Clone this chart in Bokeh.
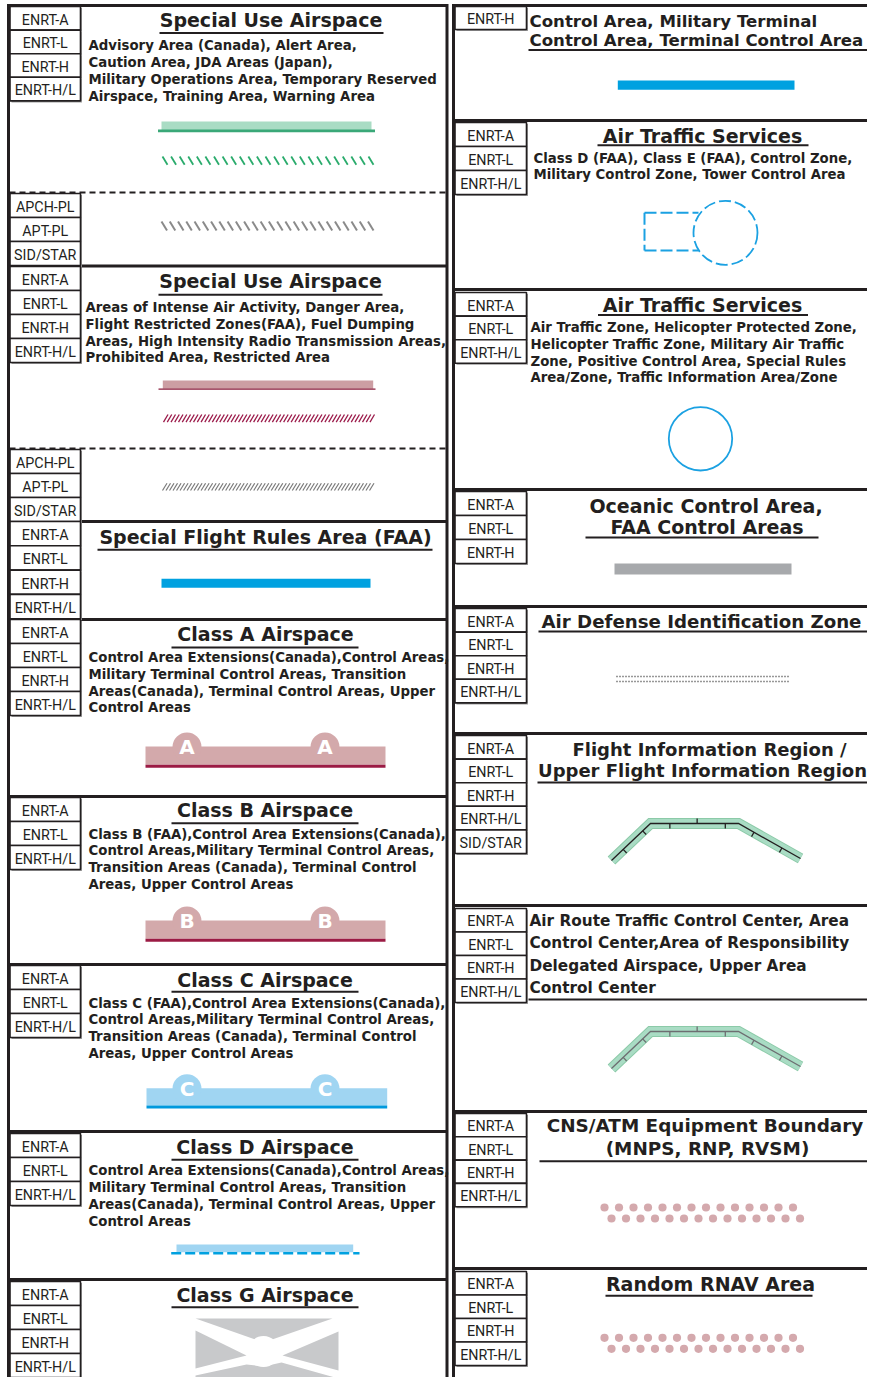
import math
from bokeh.plotting import figure
from bokeh.models import Range1d
from bokeh.embed import file_html
from bokeh.resources import INLINE
from bokeh.core.properties import value

INK = "#231f20"
TFONT = value("DejaVu Sans")
CFONT = value("Roboto")

# ---------------- content ----------------
codes_4 = ["ENRT-A", "ENRT-L", "ENRT-H", "ENRT-H/L"]
codes_3 = ["ENRT-A", "ENRT-L", "ENRT-H/L"]
codes_3h = ["ENRT-A", "ENRT-L", "ENRT-H"]
codes_pl = ["APCH-PL", "APT-PL", "SID/STAR"]
codes_5 = ["ENRT-A", "ENRT-L", "ENRT-H", "ENRT-H/L", "SID/STAR"]
codes_1 = ["ENRT-H"]

left_titles = ["Special Use Airspace", "Special Use Airspace", "Special Flight Rules Area (FAA)",
               "Class A Airspace", "Class B Airspace", "Class C Airspace", "Class D Airspace",
               "Class G Airspace"]
right_center_titles = [["Air Traffic Services"], ["Air Traffic Services"],
                       ["Oceanic Control Area,", "FAA Control Areas"],
                       ["Flight Information Region /", "Upper Flight Information Region"],
                       ["CNS/ATM Equipment Boundary", "(MNPS, RNP, RVSM)"],
                       ["Random RNAV Area"]]
right_left_titles = [["Control Area, Military Terminal", "Control Area, Terminal Control Area"],
                     ["Air Defense Identification Zone"],
                     ["Air Route Traffic Control Center, Area", "Control Center,Area of Responsibility",
                      "Delegated Airspace, Upper Area", "Control Center"]]

desc_sua1 = ["Advisory Area (Canada), Alert Area,", "Caution  Area, JDA Areas (Japan),",
             "Military Operations Area, Temporary Reserved", "Airspace, Training Area, Warning Area"]
desc_sua2 = ["Areas of Intense Air Activity, Danger Area,", "Flight Restricted Zones(FAA), Fuel Dumping",
             "Areas, High Intensity Radio Transmission Areas,", "Prohibited Area, Restricted Area"]
desc_cls_a = ["Control Area Extensions(Canada),Control Areas,", "Military Terminal Control Areas, Transition",
              "Areas(Canada), Terminal Control Areas, Upper", "Control Areas"]
desc_cls_b = ["Class B (FAA),Control Area Extensions(Canada),", "Control Areas,Military Terminal Control Areas,",
              "Transition Areas (Canada), Terminal Control", "Areas, Upper Control Areas"]
desc_cls_c = ["Class C (FAA),Control Area Extensions(Canada),", "Control Areas,Military Terminal Control Areas,",
              "Transition Areas (Canada), Terminal Control", "Areas, Upper Control Areas"]
desc_cls_d = desc_cls_a
desc_ats1 = ["Class D (FAA), Class E (FAA), Control Zone,", "Military Control Zone, Tower Control Area"]
desc_ats2 = ["Air Traffic Zone, Helicopter Protected Zone,", "Helicopter Traffic Zone, Military Air Traffic",
             "Zone, Positive Control Area, Special Rules", "Area/Zone, Traffic Information Area/Zone"]

bump_letters = ["A", "B", "C"]
dot_count_per_row = 14

# ---------------- figure ----------------
p = figure(width=867, height=1377, x_range=Range1d(0, 867), y_range=Range1d(1377, 0),
           output_backend="svg", toolbar_location=None, min_border=0,
           x_axis_location=None, y_axis_location=None)
p.grid.visible = False
p.outline_line_color = None
p.background_fill_color = "white"


def seg(xs0, ys0, xs1, ys1, color=INK, width=3, dash="solid"):
    p.segment(x0=xs0, y0=ys0, x1=xs1, y1=ys1, line_color=color, line_width=width, line_dash=dash)


def put_text(xs, baselines, texts, fs, align="left", font=TFONT, bold=True, color=INK):
    # the renderer centres the glyphs on y, so shift from baseline to cap centre
    ys = [b - 0.36 * fs for b in baselines]
    p.text(x=xs, y=ys, text=texts, text_font=font, text_font_style="bold" if bold else "normal",
           text_font_size=f"{fs}px", text_color=color, text_align=align, text_baseline="alphabetic")


# ---------------- frame ----------------
left_seps = [5, 265.5, 521, 619, 796, 964, 1131, 1279]
right_seps = [5, 120, 289, 489, 606, 733, 905, 1111, 1268]
seg([8] * len(left_seps), left_seps, [446.5] * len(left_seps), left_seps)
seg([453] * len(right_seps), right_seps, [890] * len(right_seps), right_seps)
seg([8, 446.5, 453], [3.5, 3.5, 3.5], [8, 446.5, 453], [1400, 1400, 1400])
seg([9, 9], [192, 448], [446, 446], [192, 448], width=2, dash="6 4")

# ---------------- code boxes ----------------
left_groups = [(codes_4, 6, 23.6), (codes_pl, 193, 24), (codes_4, 266, 24), (codes_pl, 449, 24),
               (codes_4, 521, 24.3), (codes_4, 619, 24), (codes_3, 797, 24), (codes_3, 965, 24),
               (codes_3, 1133, 24), (codes_4, 1281, 24)]
right_groups = [(codes_1, 6, 23), (codes_3, 122, 24), (codes_3, 292, 23.6), (codes_3h, 491, 24),
                (codes_4, 608, 23.6), (codes_5, 735, 23.6), (codes_4, 908, 23.5), (codes_4, 1113, 23.3),
                (codes_4, 1271, 23.5)]


def code_boxes(groups, x0, x1):
    L, R, T, B, tx, ty, tt = [], [], [], [], [], [], []
    for labels, y0, h in groups:
        for i, lab in enumerate(labels):
            t = y0 + i * h
            L.append(x0); R.append(x1); T.append(t); B.append(t + h)
            tx.append((x0 + x1) / 2); ty.append(t + 0.77 * h); tt.append(lab)
    p.quad(left=[l + 1.5 for l in L], right=[r + 1.5 for r in R], top=[t + 1.5 for t in T],
           bottom=[b + 1.5 for b in B], fill_color="#9d9d9d", line_color=None)
    p.quad(left=L, right=R, top=T, bottom=B, fill_color="white", line_color=INK, line_width=1.6)
    put_text(tx, ty, tt, 14.3, align="center", font=CFONT, bold=False)


code_boxes(left_groups, 9.5, 80)
code_boxes(right_groups, 454.5, 526)

# ---------------- titles ----------------
lt_x = [270.5, 270, 265, 265, 264.5, 264.5, 264.5, 264.5]
lt_y = [26.7, 287.7, 543.3, 640.7, 816.7, 986, 1153.7, 1301]
put_text(lt_x, lt_y, left_titles, 19, align="center")
ul_left = [(159, 383, 32.5), (158, 382, 294.3), (97, 432, 549.3), (171, 358, 647), (171, 358, 822.7),
           (171, 358, 991.3), (171, 358, 1159.3), (171, 358, 1306.7)]
ul_right = [(528, 890, 49.5), (597, 808, 144.7), (597.5, 807.5, 314.5), (585, 818, 536.9),
            (538, 890, 631), (537, 890, 782), (528, 890, 999), (539, 875, 1160.7), (605, 812, 1295.3)]
for x0, x1, y in ul_left + ul_right:
    seg([x0], [y], [x1], [y], width=2)

rc_x = [[702], [702], [705.5, 706.5], [709, 702], [704.5, 707], [710]]
rc_y = [[142.3], [311.7], [512.7, 533.3], [755, 776.7], [1131.7, 1154.5], [1290]]
rc_fs = [19, 19, 19, 18, 18.4, 19]
for lines, xs, ys, fs in zip(right_center_titles, rc_x, rc_y, rc_fs):
    put_text(xs, ys, lines, fs, align="center")

rl_x = [529, 541, 529]
rl_y = [[26.7, 45.7], [627.7], [925.7, 948.3, 971, 993.3]]
rl_fs = [16.6, 18.2, 15.3]
for lines, x, ys, fs in zip(right_left_titles, rl_x, rl_y, rl_fs):
    put_text([x] * len(lines), ys, lines, fs)

# ---------------- descriptions ----------------
descs = [(desc_sua1, 88, 50), (desc_sua2, 85, 311.7), (desc_cls_a, 88, 661.7), (desc_cls_b, 88, 838.3),
         (desc_cls_c, 88, 1007.3), (desc_cls_d, 88, 1175), (desc_ats1, 533, 162.3), (desc_ats2, 530, 331.7)]
for lines, x, y0 in descs:
    put_text([x] * len(lines), [y0 + i * 16.8 for i in range(len(lines))], lines, 13.3)


# ---------------- symbols ----------------
def hatch(x0, x1, yt, yb, n, dx, lean, color, width):
    xs, ys = [], []
    for i in range(n):
        x = x0 + i * (x1 - dx - x0) / (n - 1)
        xs.append([x, x + dx])
        ys.append([yt, yb] if lean > 0 else [yb, yt])
    p.multi_line(xs, ys, line_color=color, line_width=width)


# Special use airspace 1
p.quad(left=[161], right=[371], top=[121], bottom=[129.5], fill_color="#a9dcc4", line_color=None)
seg([157.5], [130.4], [374.5], [130.4], color="#3aa878", width=2.6)
hatch(162, 373, 156, 164.3, 25, 5, 1, "#2aab6c", 1.8)
hatch(161, 373, 221, 230, 26, 5.5, 1, "#8a8a8a", 2)
# Special use airspace 2
p.quad(left=[162.3], right=[372.7], top=[380], bottom=[388.3], fill_color="#cc9ea3", line_color=None)
seg([158], [388.7], [375], [388.7], color="#8a1c3d", width=1.3)
hatch(163, 374, 414, 421.7, 56, 4.5, -1, "#9b1b4a", 1.3)
hatch(162, 373.5, 482.7, 490, 60, 4.5, -1, "#7a7a7a", 1.2)
# SFRA
p.quad(left=[161], right=[370], top=[578.3], bottom=[587.3], fill_color="#00a1e0", line_color=None)

# Class A / B / C bands with bumps
bands = [(145, 385, 746, 764.3, 767.3, "#d3a9ab", "#9b1b44"),
         (145, 385, 920, 938.3, 941.3, "#d3a9ab", "#9b1b44"),
         (146, 386.7, 1087.7, 1105, 1108, "#a0d5f2", "#0099dd")]
bump_x = [186.5, 324.5]
for (x0, x1, yt, yb, yl, fill, dark), letter in zip(bands, bump_letters):
    p.quad(left=[x0], right=[x1], top=[yt], bottom=[yb], fill_color=fill, line_color=None)
    p.circle(x=bump_x, y=[yt + 0.5] * 2, radius=14.5, fill_color=fill, line_color=None)
    p.quad(left=[x0], right=[x1], top=[yb], bottom=[yl], fill_color=dark, line_color=None)
    put_text(bump_x, [yt + 7.5] * 2, [letter] * 2, 20, align="center", color="white")

# Class D
p.quad(left=[176], right=[352.7], top=[1244], bottom=[1251.7], fill_color="#a0d5f2", line_color=None)
seg([170.7], [1252.8], [359], [1252.8], color="#00a1e0", width=2.6, dash="10 4")

# Class G
g_polys_x = [[195, 332, 263], [195, 246, 195], [338, 282, 338],
             [195, 246, 263, 281, 338, 338, 195]]
g_polys_y = [[1318, 1318, 1342], [1330, 1355, 1368], [1331, 1355, 1370],
             [1375, 1364, 1366, 1362, 1378, 1383.5, 1383.5]]
p.patches(g_polys_x, g_polys_y, fill_color="#c8c9cb", line_color=None)
p.circle(x=[263], y=[1351], radius=15.5, fill_color="white", line_color=None)

# Right: control area bar
p.quad(left=[617.3], right=[794], top=[80], bottom=[89.3], fill_color="#00a1e0", line_color=None)
# ATS dashed rect + circle
seg([644, 644, 644], [212.3, 250, 212.3], [698, 698, 644], [212.3, 250, 250], color="#1ba1e2",
    width=2, dash="12 4")
p.circle(x=[725], y=[232.3], radius=32, fill_color=None, line_color="#1ba1e2", line_width=1.8,
         line_dash="12 4")
# ATS solid circle
p.circle(x=[700], y=[438.3], radius=31.7, fill_color=None, line_color="#1ba1e2", line_width=1.8)
# Oceanic gray bar
p.quad(left=[614], right=[791], top=[563], bottom=[574], fill_color="#a7a9ac", line_color=None)
# ADIZ dotted rows
seg([616, 616], [676, 681], [788, 788], [676, 681], color="#333333", width=1.4, dash="1 2")


# FIR / ARTCC paths
def boundary(px, py, band_edge, band_fill, dark, tick_specs):
    p.line(px, py, line_width=11, line_color=band_edge, line_join="miter")
    p.line(px, py, line_width=9, line_color=band_fill, line_join="miter")
    p.line(px, py, line_width=1.3, line_color=dark, line_join="miter")
    txs, tys = [], []
    for si, f, side in tick_specs:
        x0, y0, x1, y1 = px[si], py[si], px[si + 1], py[si + 1]
        L = math.hypot(x1 - x0, y1 - y0)
        nx, ny = -(y1 - y0) / L, (x1 - x0) / L
        cx, cy = x0 + f * (x1 - x0), y0 + f * (y1 - y0)
        txs.append([cx, cx + side * 5 * nx]); tys.append([cy, cy + side * 5 * ny])
    p.multi_line(txs, tys, line_color=dark, line_width=1.3)


ticks = [(0, 0.3, 1), (0, 0.8, 1), (1, 0.22, 1), (1, 0.53, -1), (1, 0.85, 1), (2, 0.25, 1), (2, 0.7, 1)]
boundary([611, 650, 738, 800], [860, 823, 823, 858], "#8ccaa8", "#a9dcc4", INK, ticks)
boundary([611, 650, 738, 800], [1068, 1031, 1031, 1066], "#8ccaa8", "#a9dcc4", "#6d6e71", ticks)

# CNS/ATM and RNAV dots
for y1, y2 in [(1207, 1218), (1337.3, 1348.3)]:
    r1 = [604 + i * 14.5 for i in range(dot_count_per_row)]
    r2 = [611 + i * 14.5 for i in range(dot_count_per_row)]
    p.circle(x=r1 + r2, y=[y1] * dot_count_per_row + [y2] * dot_count_per_row, radius=4.1,
             fill_color="#d4a9ad", line_color=None)

open("out.html", "w").write(file_html(p, INLINE))
